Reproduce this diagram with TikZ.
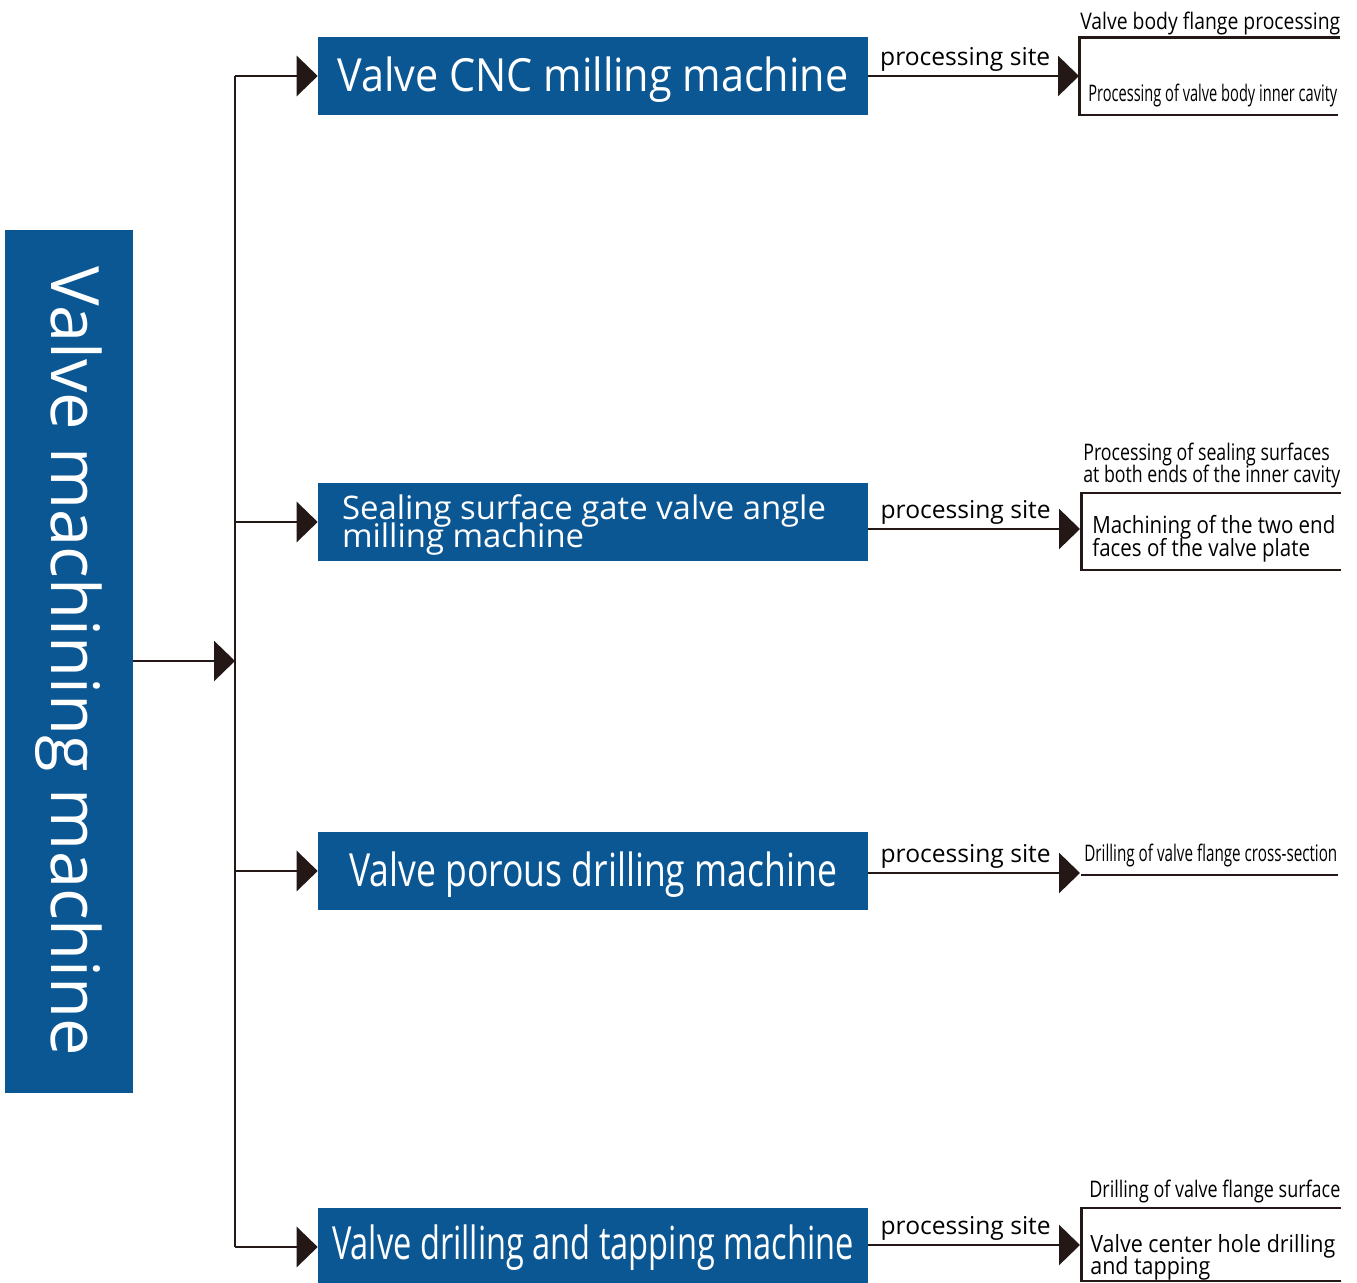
\documentclass[tikz,border=0pt]{standalone}
\usepackage{graphicx}
\usepackage{fontspec}
\setmainfont{Open Sans}
\usetikzlibrary{arrows.meta}
\definecolor{valveblue}{HTML}{0B5794}
\definecolor{inkblack}{HTML}{231815}
% squeeze a text to a given width, keeping its height
\newcommand\squeezeto[2]{\resizebox{#1}{\height}{#2}}
% two lines at a fixed baseline distance, baseline on the last line
\newcommand\twolines[3]{\vbox{\baselineskip=#1\lineskiplimit=-\maxdimen\lineskip=0pt
  \hbox{#2}\hbox{#3}}}
\tikzset{
  rootbox/.style={fill=valveblue, text=white, rotate=-90, minimum width=17.26cm,
    minimum height=2.56cm, inner sep=0pt, font=\fontsize{38}{40}\selectfont},
  machbox/.style={fill=valveblue, text=white, minimum width=11cm, inner sep=0pt,
    text height=1.1cm, text depth=0.46cm, font=\fontsize{26}{28}\selectfont},
  arr/.style={draw=inkblack, line width=1.7pt, -{Triangle[length=0.42cm,width=0.8cm]}},
  bar/.style={draw=inkblack, line width=1.7pt},
  sitelabel/.style={font=\fontsize{14}{16}\selectfont, inner sep=2pt, anchor=south, pos=0.46},
  parttext/.style={font=\fontsize{13}{13}\selectfont, inner sep=0pt, anchor=base west},
}
\begin{document}
\begin{tikzpicture}[x=0.02cm, y=-0.02cm]
  \useasboundingbox (0,0) rectangle (1357,1283);

  % root and hub
  \node[rootbox] (root) at (69,661.5) {Valve machining machine};
  \coordinate (hub) at (235,661);
  \draw[arr] (root.north |- hub) -- (hub);

  % machines
  \node[machbox] (cnc) at (593,76) {\squeezeto{10.22cm}{Valve CNC milling machine}};
  \node[machbox, font=\fontsize{18.5}{20}\selectfont, text height=1.3cm, text depth=0.26cm]
    (angle) at (593,522) {\squeezeto{9.68cm}{\twolines{16.2pt}{Sealing surface gate valve angle}
      {milling machine}}\kern0.36cm};
  \node[machbox] (porous) at (593,871) {\squeezeto{9.76cm}{Valve porous drilling machine}};
  \node[machbox, text height=1.04cm, text depth=0.52cm] (tap) at (593,1247)
    {\squeezeto{10.44cm}{Valve drilling and tapping machine}};

  \draw[bar] (hub |- cnc.west) -- (hub |- tap.west);
  \draw[arr] (hub |- cnc.west) -- (cnc.west);
  \draw[arr] (hub |- angle.west) -- (angle.west);
  \draw[arr] (hub |- porous.west) -- (porous.west);
  \draw[arr] (hub |- tap.west) -- (tap.west);

  % processing sites
  \coordinate (site1) at (1079,76);
  \coordinate (site2) at (1080,529);
  \coordinate (site3) at (1080,873);
  \coordinate (site4) at (1080,1245);
  \draw[arr] (cnc.east) -- (site1) node[sitelabel] (lab1) {processing site};
  \draw[arr] (angle.east |- site2) -- (site2) node[sitelabel] (lab2) {processing site};
  \draw[arr] (porous.east |- site3) -- (site3) node[sitelabel] (lab3) {processing site};
  \draw[arr] (tap.east |- site4) -- (site4) node[sitelabel] (lab4) {processing site};

  % row 1
  \draw[bar] (1340,38) -- (1079,38) -- (1079,115) -- (1338,115);
  \node[parttext] (flange) at (1080,30) {\squeezeto{5.2cm}{Valve body flange processing}};
  \node[parttext] (cavity) at (1088,102) {\squeezeto{4.98cm}{Processing of valve body inner cavity}};
  % row 2
  \draw[bar] (1341,493) -- (1081,493) -- (1081,570) -- (1341,570);
  \node[parttext] (sealing) at (1083,483) {\squeezeto{5.14cm}{\twolines{13pt}{Processing of sealing surfaces}
    {at both ends of the inner cavity}}};
  \node[parttext, font=\fontsize{13.5}{14}\selectfont] (endface) at (1092,557)
    {\squeezeto{4.86cm}{\twolines{13.6pt}{Machining of the two end}{faces of the valve plate}}};
  % row 3
  \draw[bar] (1081,875) -- (1338,875);
  \node[parttext] (cross) at (1084,862) {\squeezeto{5.06cm}{Drilling of valve flange cross-section}};
  % row 4
  \draw[bar] (1341,1208) -- (1081,1208) -- (1081,1281) -- (1341,1281);
  \node[parttext] (surface) at (1089,1197) {\squeezeto{5.02cm}{Drilling of valve flange surface}};
  \node[parttext, font=\fontsize{13.5}{14}\selectfont] (center) at (1090,1274)
    {\squeezeto{4.9cm}{\twolines{12.5pt}{Valve center hole drilling}{and tapping}}};
\end{tikzpicture}
\end{document}
